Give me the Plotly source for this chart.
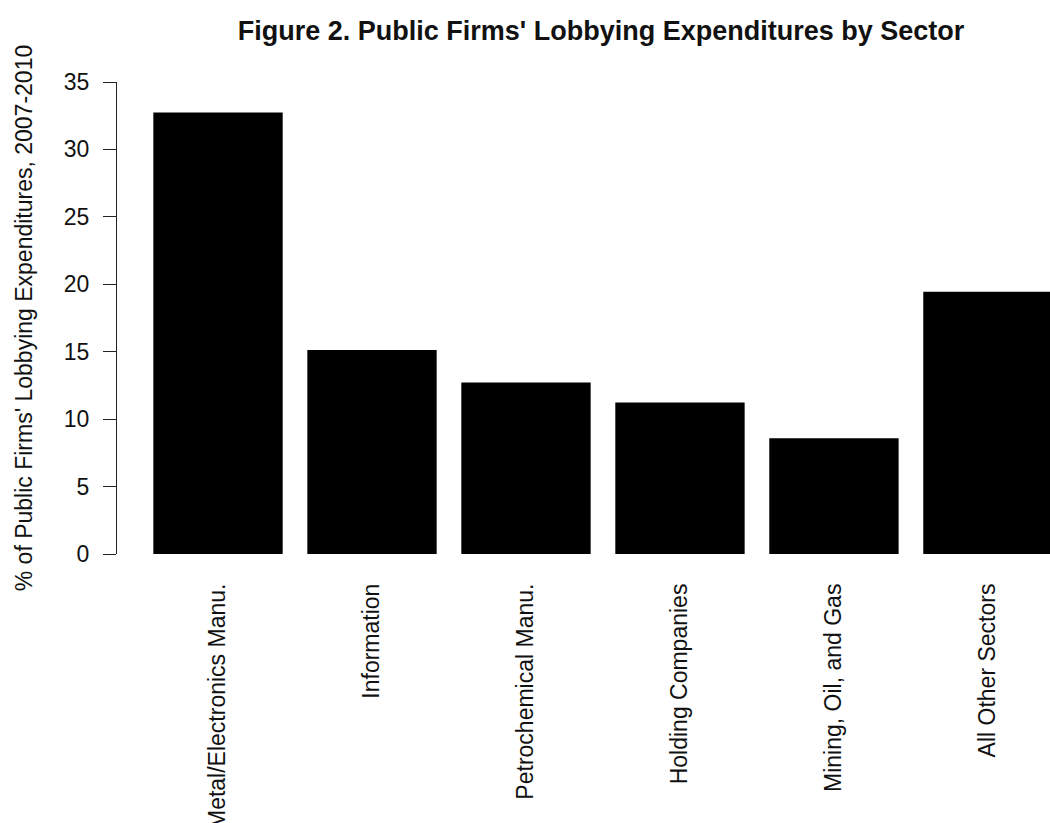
import plotly.graph_objects as go

sectors = ["Metal/Electronics Manu.", "Information", "Petrochemical Manu.",
           "Holding Companies", "Mining, Oil, and Gas", "All Other Sectors"]
shares = [32.74, 15.13, 12.71, 11.23, 8.59, 19.45]
y_ticks = [0, 5, 10, 15, 20, 25, 30, 35]

FONT = "Liberation Sans, Arial, Helvetica, sans-serif"

W, H = 1050, 823

fig = go.Figure(
    go.Bar(
        x=sectors,
        y=shares,
        marker=dict(color="black", line=dict(width=0)),
        width=0.84,
    )
)

fig.update_layout(
    width=W,
    height=H,
    margin=dict(l=117, r=0, t=82, b=269, autoexpand=False),
    paper_bgcolor="white",
    plot_bgcolor="white",
    showlegend=False,
    font=dict(family=FONT, size=23, color="#111"),
    title=dict(
        text="<b>Figure 2. Public Firms' Lobbying Expenditures by Sector</b>",
        font=dict(family=FONT, size=27, color="#111"),
        x=601 / W,
        xanchor="center",
        xref="container",
        y=1 - 31 / H,
        yanchor="middle",
        yref="container",
    ),
    xaxis=dict(
        type="category",
        range=[-0.656, 5.403],
        showline=False,
        showgrid=False,
        zeroline=False,
        ticks="",
        tickangle=-90,
        ticklabelstandoff=24,
        tickfont=dict(family=FONT, size=23, color="#111"),
        automargin=False,
    ),
    yaxis=dict(
        range=[0, 35],
        tickvals=y_ticks,
        ticktext=[str(v) for v in y_ticks],
        showline=True,
        linecolor="#222",
        linewidth=1,
        ticks="outside",
        ticklen=13,
        tickwidth=1,
        tickcolor="#222",
        ticklabelstandoff=9,
        showgrid=False,
        zeroline=False,
        tickfont=dict(family=FONT, size=23, color="#111"),
        title=dict(
            text="% of Public Firms' Lobbying Expenditures, 2007-2010",
            font=dict(family=FONT, size=23, color="#111"),
            standoff=24,
        ),
        automargin=False,
    ),
)

fig.write_html(
    "out.html",
    config={"displayModeBar": False, "staticPlot": True},
    post_script="document.body.style.margin='0';document.body.style.overflow='hidden';",
)
